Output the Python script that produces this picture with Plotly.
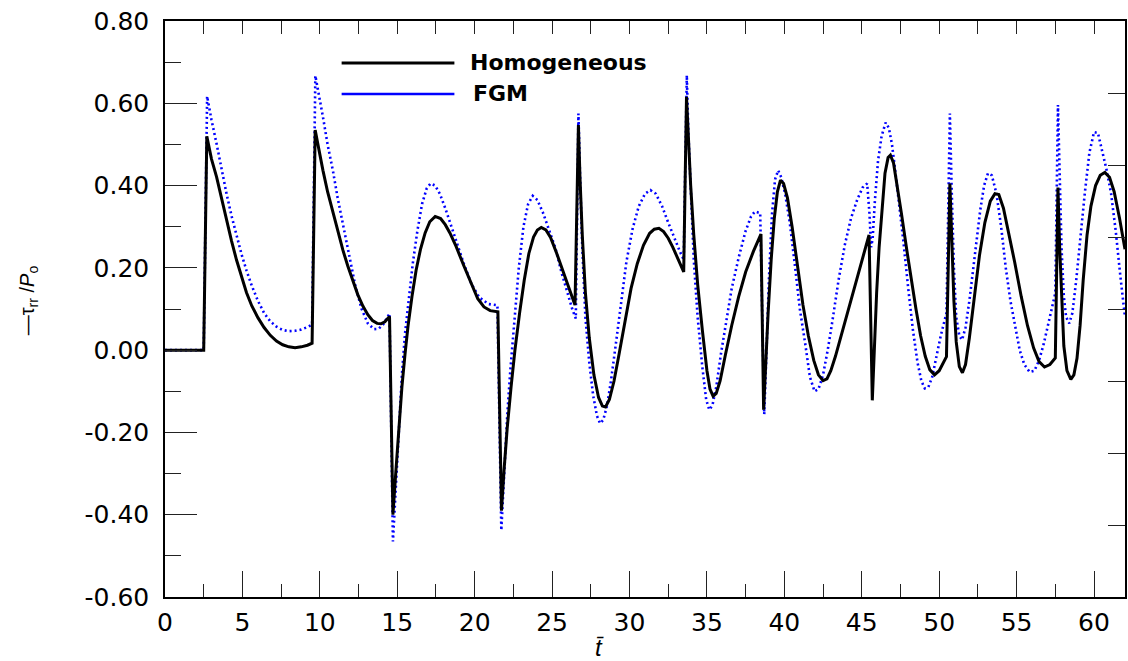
import plotly.graph_objects as go

# ---------------- data ----------------
homog_t = [0, 2.5, 2.7, 2.85, 3.0, 3.33, 3.65, 3.97, 4.3, 4.62, 4.95, 5.26, 5.6, 6.0, 6.4, 6.8, 7.2, 7.6, 8.0, 8.4, 8.8, 9.2, 9.5,
           9.7, 9.85, 10.0, 10.2, 10.5, 10.85, 11.15, 11.49, 11.8, 12.13, 12.45, 12.78, 13.1, 13.4, 13.7, 13.95, 14.2, 14.5,
           14.72, 14.9, 15.1, 15.3, 15.5, 15.7, 15.95, 16.22, 16.5, 16.8, 17.1, 17.45, 17.8, 18.1, 18.4, 18.8, 19.3, 19.8,
           20.2, 20.6, 21.0, 21.5,
           21.73, 21.9, 22.1, 22.35, 22.6, 22.9, 23.2, 23.5, 23.8, 24.05, 24.3, 24.6, 24.9, 25.3, 25.7, 26.1, 26.48,
           26.7, 26.8, 26.95, 27.15, 27.4, 27.7, 28.0, 28.25, 28.45, 28.7, 29.0, 29.3, 29.7, 30.1, 30.5, 30.9, 31.3, 31.6,
           31.9, 32.2, 32.5, 32.8, 33.15, 33.5,
           33.68, 33.8, 33.95, 34.15, 34.4, 34.7, 35.0, 35.2, 35.4, 35.6, 35.85, 36.2, 36.6, 37.05, 37.5, 38.0, 38.49,
           38.66, 38.8, 38.95, 39.15, 39.35, 39.55, 39.75, 39.95, 40.2, 40.5, 40.85, 41.2, 41.55, 41.9, 42.2, 42.5, 42.75,
           43.0, 43.3, 43.7, 44.1, 44.5, 44.9, 45.2, 45.47,
           45.68, 45.82, 45.96, 46.12, 46.3, 46.5, 46.7, 46.85, 47.05, 47.3, 47.57, 47.9, 48.2, 48.5, 48.8, 49.1, 49.4,
           49.7, 50.0, 50.3, 50.47,
           50.69, 50.8, 50.95, 51.1, 51.3, 51.5, 51.7, 51.95, 52.25, 52.6, 52.95, 53.3, 53.6, 53.85, 54.15, 54.5, 54.87,
           55.3, 55.7, 56.1, 56.45, 56.8, 57.15, 57.5,
           57.67, 57.78, 57.9, 58.05, 58.25, 58.5, 58.7, 58.9, 59.1, 59.3, 59.55, 59.8, 60.1, 60.4, 60.7, 61.0, 61.3, 61.65, 62.0]
homog_v = [0, 0, 0.52, 0.49, 0.465, 0.421, 0.368, 0.316, 0.265, 0.219, 0.176, 0.14, 0.108, 0.079, 0.055, 0.036, 0.022, 0.013, 0.008, 0.006, 0.008, 0.012, 0.017,
           0.535, 0.505, 0.475, 0.437, 0.385, 0.335, 0.29, 0.243, 0.205, 0.168, 0.135, 0.107, 0.086, 0.072, 0.065, 0.064, 0.069, 0.082,
           -0.40, -0.30, -0.19, -0.09, -0.01, 0.06, 0.13, 0.195, 0.245, 0.285, 0.312, 0.325, 0.32, 0.305, 0.285, 0.252, 0.205, 0.158,
           0.125, 0.105, 0.096, 0.093,
           -0.39, -0.29, -0.19, -0.09, 0.0, 0.09, 0.17, 0.235, 0.275, 0.292, 0.298, 0.292, 0.274, 0.235, 0.19, 0.15, 0.11,
           0.547, 0.42, 0.28, 0.14, 0.03, -0.06, -0.115, -0.136, -0.138, -0.12, -0.075, -0.015, 0.07, 0.15, 0.21, 0.255, 0.284, 0.294,
           0.296, 0.288, 0.272, 0.25, 0.22, 0.19,
           0.616, 0.50, 0.40, 0.28, 0.16, 0.05, -0.05, -0.095, -0.112, -0.105, -0.075, -0.01, 0.06, 0.13, 0.19, 0.24, 0.282,
           -0.145, -0.02, 0.09, 0.22, 0.32, 0.385, 0.413, 0.405, 0.37, 0.30, 0.20, 0.11, 0.035, -0.025, -0.06, -0.074, -0.07,
           -0.05, -0.015, 0.04, 0.095, 0.15, 0.205, 0.245, 0.28,
           -0.122, 0.02, 0.14, 0.25, 0.345, 0.43, 0.468, 0.474, 0.455, 0.40, 0.33, 0.245, 0.17, 0.10, 0.035, -0.015, -0.048,
           -0.06, -0.05, -0.03, -0.016,
           0.405, 0.26, 0.12, 0.02, -0.04, -0.055, -0.035, 0.03, 0.12, 0.23, 0.31, 0.362, 0.38, 0.378, 0.345, 0.285, 0.215,
           0.13, 0.06, 0.005, -0.028, -0.041, -0.035, -0.019,
           0.395, 0.25, 0.12, 0.01, -0.05, -0.071, -0.06, -0.02, 0.06, 0.17, 0.28, 0.35, 0.40, 0.425, 0.432, 0.42, 0.385, 0.32, 0.245]

fgm_t = [0, 2.5, 2.72, 2.85, 3.0, 3.33, 3.65, 3.97, 4.3, 4.62, 4.95, 5.26, 5.6, 6.0, 6.4, 6.8, 7.2, 7.6, 8.0, 8.4, 8.8, 9.2, 9.5,
         9.71, 9.85, 10.0, 10.2, 10.5, 10.85, 11.15, 11.49, 11.9, 12.3, 12.7, 13.1, 13.5, 13.8, 14.1, 14.5,
         14.72, 14.9, 15.1, 15.3, 15.5, 15.75, 16.0, 16.3, 16.6, 16.9, 17.15, 17.45, 17.75, 18.1, 18.5, 18.9, 19.3, 19.8,
         20.3, 20.9, 21.47,
         21.72, 21.9, 22.1, 22.3, 22.55, 22.85, 23.15, 23.45, 23.75, 24.05, 24.4, 24.8, 25.2, 25.6, 26.0, 26.3, 26.53,
         26.7, 26.8, 26.95, 27.15, 27.4, 27.65, 27.9, 28.1, 28.3, 28.55, 28.8, 29.1, 29.45, 29.8, 30.2, 30.6, 31.0, 31.35,
         31.7, 32.1, 32.5, 32.9, 33.25, 33.5,
         33.7, 33.8, 33.95, 34.15, 34.4, 34.7, 34.95, 35.15, 35.35, 35.6, 35.9, 36.2, 36.6, 37.05, 37.5, 37.85, 38.1, 38.44,
         38.7, 38.85, 39.0, 39.2, 39.4, 39.6, 39.8, 40.05, 40.35, 40.7, 41.0, 41.35, 41.65, 41.95, 42.2, 42.5, 42.8, 43.1,
         43.5, 43.9, 44.3, 44.7, 45.05, 45.35,
         45.5, 45.6, 45.7, 45.85, 46.05, 46.28, 46.54, 46.75, 46.95, 47.15, 47.4, 47.68, 48.0, 48.3, 48.6, 48.85, 49.07,
         49.3, 49.55, 49.8, 50.1, 50.47,
         50.69, 50.8, 50.95, 51.1, 51.3, 51.48, 51.7, 51.95, 52.3, 52.65, 52.9, 53.15, 53.4, 53.7, 54.0, 54.3, 54.6, 54.9,
         55.2, 55.5, 55.84, 56.15, 56.45, 56.75, 57.05, 57.3, 57.5,
         57.67, 57.78, 57.9, 58.05, 58.2, 58.4, 58.6, 58.85, 59.1, 59.4, 59.7, 60.0, 60.25, 60.5, 60.8, 61.1, 61.4, 61.7, 62.0]
fgm_v = [0, 0, 0.617, 0.59, 0.56, 0.502, 0.44, 0.381, 0.326, 0.277, 0.232, 0.194, 0.157, 0.12, 0.09, 0.07, 0.057, 0.049, 0.046, 0.047, 0.05, 0.056, 0.062,
         0.667, 0.64, 0.61, 0.567, 0.50, 0.435, 0.37, 0.305, 0.228, 0.155, 0.10, 0.065, 0.051, 0.052, 0.063, 0.089,
         -0.465, -0.34, -0.19, -0.06, 0.04, 0.13, 0.21, 0.29, 0.355, 0.393, 0.405, 0.40, 0.38, 0.345, 0.30, 0.255, 0.21, 0.16,
         0.128, 0.112, 0.109,
         -0.438, -0.30, -0.16, -0.05, 0.07, 0.20, 0.30, 0.355, 0.375, 0.365, 0.335, 0.295, 0.25, 0.19, 0.135, 0.10, 0.077,
         0.575, 0.43, 0.25, 0.08, -0.03, -0.11, -0.16, -0.178, -0.17, -0.135, -0.075, 0.01, 0.12, 0.215, 0.295, 0.35, 0.38, 0.389,
         0.38, 0.35, 0.31, 0.27, 0.24, 0.22,
         0.668, 0.53, 0.38, 0.22, 0.08, -0.04, -0.12, -0.145, -0.135, -0.09, -0.01, 0.06, 0.15, 0.225, 0.29, 0.325, 0.337, 0.333,
         -0.156, 0.0, 0.17, 0.33, 0.415, 0.437, 0.42, 0.38, 0.31, 0.20, 0.10, 0.015, -0.065, -0.10, -0.095, -0.06, 0.0, 0.07,
         0.17, 0.255, 0.32, 0.365, 0.395, 0.405,
         0.33, 0.25, 0.27, 0.365, 0.46, 0.52, 0.553, 0.54, 0.50, 0.44, 0.36, 0.267, 0.15, 0.05, -0.03, -0.075, -0.093,
         -0.09, -0.065, -0.02, 0.035, 0.09,
         0.575, 0.40, 0.20, 0.08, 0.035, 0.025, 0.055, 0.12, 0.225, 0.34, 0.40, 0.43, 0.425, 0.38, 0.30, 0.20, 0.12, 0.055,
         0.0, -0.035, -0.053, -0.05, -0.025, 0.015, 0.065, 0.105, 0.139,
         0.596, 0.42, 0.25, 0.13, 0.08, 0.065, 0.09, 0.17, 0.27, 0.38, 0.48, 0.53, 0.528, 0.49, 0.44, 0.381, 0.29, 0.18, 0.08]

x_tick_vals = [0, 5, 10, 15, 20, 25, 30, 35, 40, 45, 50, 55, 60]
x_tick_text = ["0", "5", "10", "15", "20", "25", "30", "35", "40", "45", "50", "55", "60"]
y_tick_vals = [-0.6, -0.4, -0.2, 0.0, 0.2, 0.4, 0.6, 0.8]
y_tick_text = ["-0.60", "-0.40", "-0.20", "0.00", "0.20", "0.40", "0.60", "0.80"]

series_names = ["Homogeneous", "FGM"]

FONT = "DejaVu Sans, Liberation Sans, Arial, sans-serif"
FONT2 = "Liberation Sans, Arial, sans-serif"

fig = go.Figure()
fig.add_trace(go.Scatter(x=fgm_t, y=fgm_v, mode="lines", name=series_names[1],
                         line=dict(color="#0000ff", width=2.6, dash="2px,3px"), showlegend=False))
fig.add_trace(go.Scatter(x=homog_t, y=homog_v, mode="lines", name=series_names[0],
                         line=dict(color="black", width=3), showlegend=False))
# helper trace carrying the top and right tick axes
fig.add_trace(go.Scatter(x=[], y=[], xaxis="x2", yaxis="y2", showlegend=False, hoverinfo="skip"))

fig.update_layout(
    width=1128, height=661,
    margin=dict(l=165, r=1, t=21, b=64),
    plot_bgcolor="white", paper_bgcolor="white",
    font=dict(family=FONT, color="black"),
    xaxis=dict(range=[0, 62], tickmode="array", tickvals=x_tick_vals, ticktext=x_tick_text,
               ticks="inside", ticklen=26, tickwidth=1.3, tickcolor="#222",
               minor=dict(tickmode="linear", tick0=0, dtick=2.5, ticks="inside", ticklen=13, tickwidth=1.3, tickcolor="#222"),
               showline=True, linecolor="black", linewidth=1.5, mirror=True,
               showgrid=False, zeroline=False, tickfont=dict(size=25, family=FONT),
               ticklabelstandoff=2),
    yaxis=dict(range=[-0.6, 0.8], tickmode="array", tickvals=y_tick_vals, ticktext=y_tick_text,
               ticks="inside", ticklen=32, tickwidth=1.3, tickcolor="#222",
               minor=dict(tickmode="linear", tick0=0, dtick=0.1, ticks="inside", ticklen=16, tickwidth=1.3, tickcolor="#222"),
               showline=True, linecolor="black", linewidth=1.5, mirror=True,
               showgrid=False, zeroline=False, tickfont=dict(size=25, family=FONT),
               ticklabelstandoff=9),
    xaxis2=dict(overlaying="x", side="top", range=[0, 62], tickmode="linear", tick0=0, dtick=2.5,
                ticks="inside", ticklen=13, tickwidth=1.3, tickcolor="#222",
                showticklabels=False, showgrid=False, zeroline=False, showline=False),
    yaxis2=dict(overlaying="y", side="right", range=[0, 8], tickmode="linear", tick0=0, dtick=1,
                ticks="inside", ticklen=17, tickwidth=1.3, tickcolor="#222",
                showticklabels=False, showgrid=False, zeroline=False, showline=False),
    showlegend=False,
)

# legend drawn as key lines + labels (paper coordinates)
def px2paper_x(px):
    return (px - 165) / 962.0

def px2paper_y(py):
    return (597 - py) / 576.0

legend_items = [(series_names[0], "black", 3, 63, 469), (series_names[1], "#0000ff", 2.5, 94, 472)]
for name, col, w, py, tx in legend_items:
    fig.add_shape(type="line", xref="paper", yref="paper",
                  x0=px2paper_x(342), x1=px2paper_x(455), y0=px2paper_y(py), y1=px2paper_y(py),
                  line=dict(color=col, width=w))
    fig.add_annotation(xref="paper", yref="paper", x=px2paper_x(tx), y=px2paper_y(py - 1),
                       xanchor="left", yanchor="middle", showarrow=False,
                       text="<b>" + name + "</b>", font=dict(size=22, family=FONT, color="black"))

# axis titles
fig.add_annotation(xref="paper", yref="paper", x=px2paper_x(600), y=px2paper_y(647),
                   xanchor="center", yanchor="middle", showarrow=False,
                   text="<i>t\u0304</i>", font=dict(size=24, family=FONT2, color="black"))
fig.add_annotation(xref="paper", yref="paper", x=px2paper_x(28), y=px2paper_y(300),
                   xanchor="center", yanchor="middle", showarrow=False, textangle=-90,
                   text="\u2014\u03c4<sub>rr</sub> /<i>P</i><sub>o</sub>",
                   font=dict(size=20, family=FONT2, color="black"))

fig.write_html("out.html")
